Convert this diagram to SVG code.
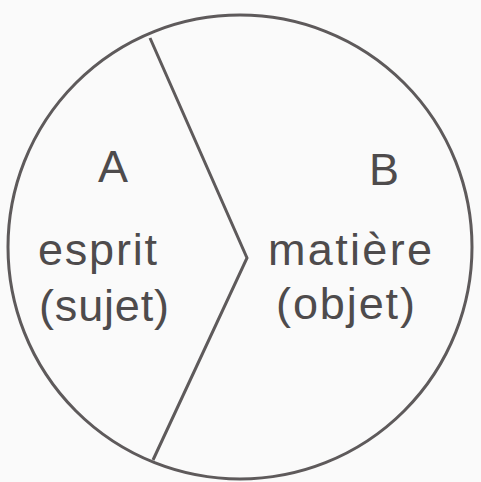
<svg xmlns="http://www.w3.org/2000/svg" width="481" height="482" viewBox="0 0 481 482">
<style>
.ln{fill:none;stroke:#5e5a5b;stroke-width:3;stroke-linejoin:miter}
.t{font-family:"Liberation Sans",Arial,sans-serif;font-size:45px;fill:#4e4b4c}
.c{text-anchor:middle}
</style>
<rect width="481" height="482" fill="#fafafa"/>
<g id="circle"><ellipse class="ln" cx="240" cy="247" rx="232" ry="232"/></g>
<g id="connectors"><polyline class="ln" points="150,38 247,258 153,460"/></g>
<g id="nodeA">
<text class="t c" x="113" y="182">A</text>
<text class="t" x="38" y="265" textLength="119" lengthAdjust="spacing">esprit</text>
<text class="t" x="39" y="321" textLength="130" lengthAdjust="spacing">(sujet)</text>
</g>
<g id="nodeB">
<text class="t c" x="384" y="185">B</text>
<text class="t" x="268" y="265" textLength="164" lengthAdjust="spacing">matière</text>
<text class="t" x="276" y="319" textLength="139" lengthAdjust="spacing">(objet)</text>
</g>
</svg>
